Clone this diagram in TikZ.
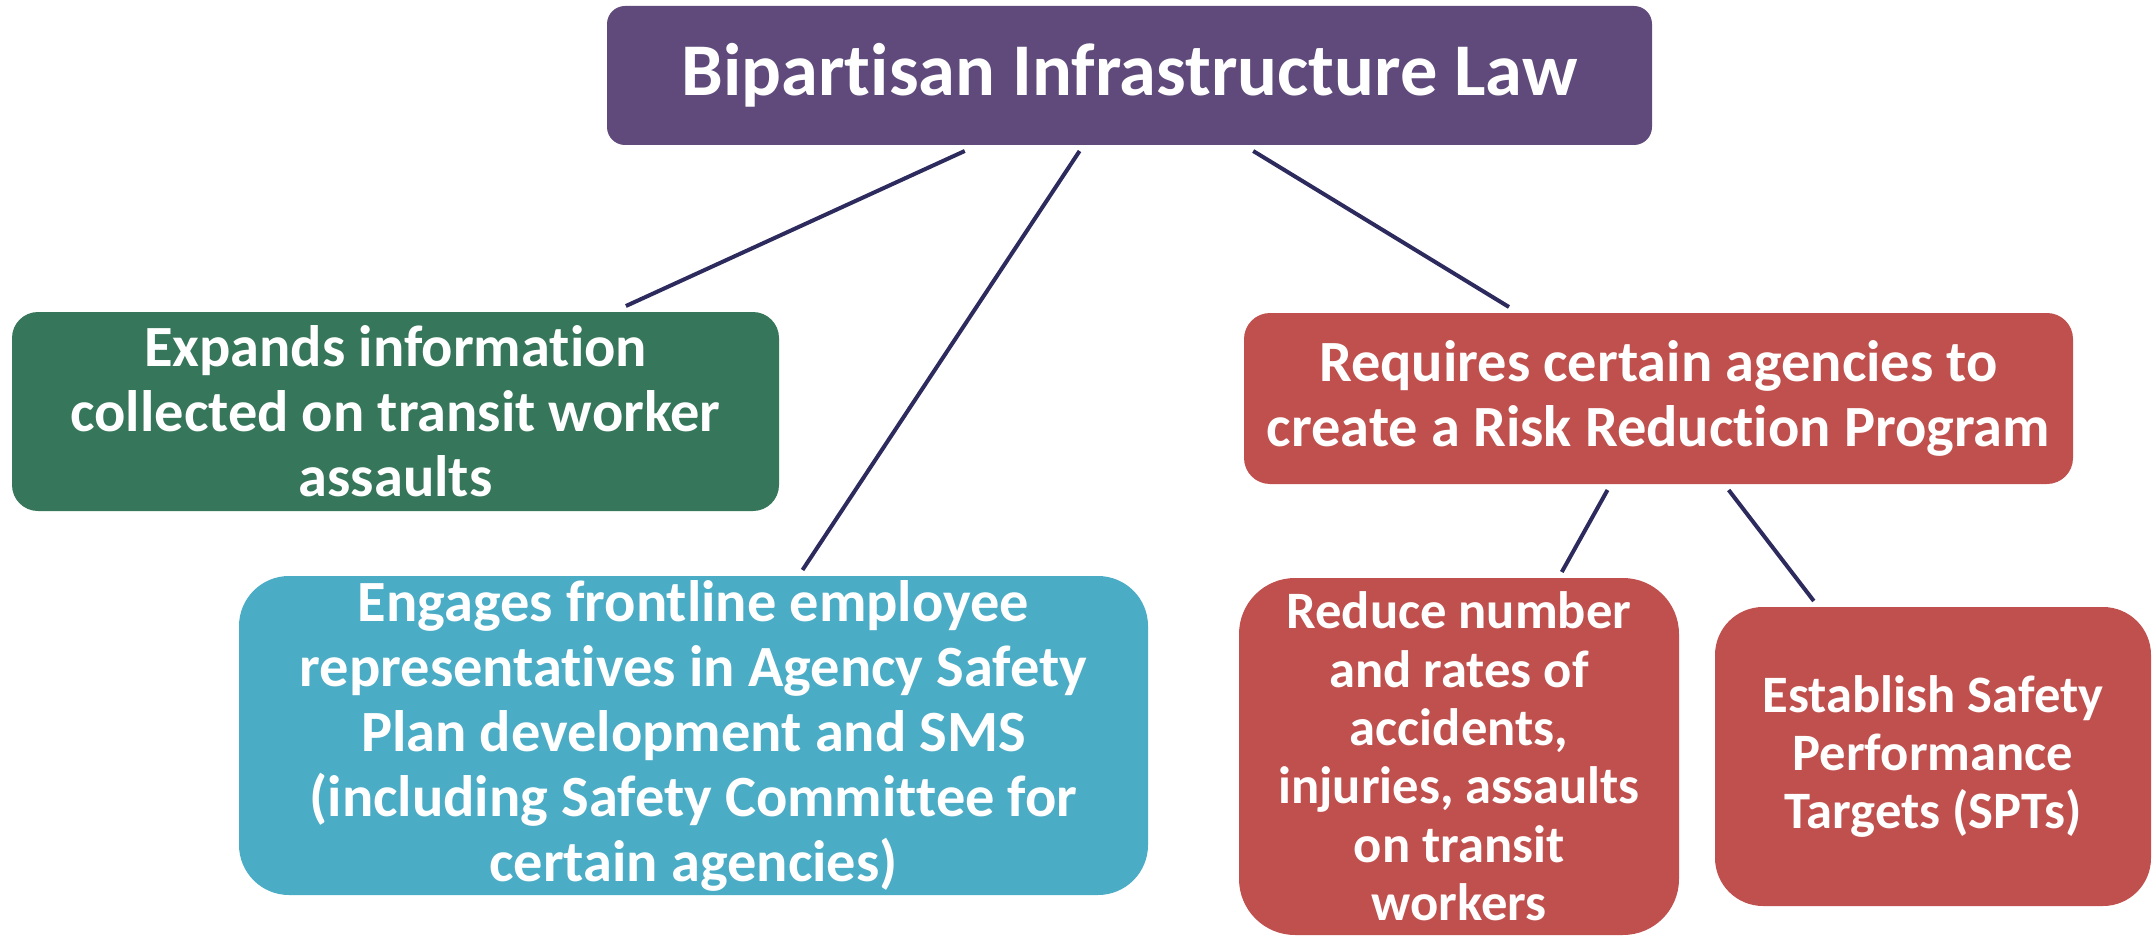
\documentclass[tikz,border=0pt]{standalone}
\usepackage{fontspec}
\setmainfont{Carlito}[Ligatures=NoCommon]
\definecolor{cpurple}{HTML}{604A7B}
\definecolor{cgreen}{HTML}{36765A}
\definecolor{cblue}{HTML}{4BACC6}
\definecolor{cred}{HTML}{C0504D}
\definecolor{cline}{HTML}{2D2A5E}
\tikzset{
  box/.style={draw=none, rectangle, align=center, text=white, inner sep=0pt, outer sep=3pt,
    font=\bfseries\fontsize{29.2}{32.5}\selectfont},
  smallbox/.style={box, font=\bfseries\fontsize{26.3}{29.2}\selectfont},
  conn/.style={draw=cline, line width=2pt}
}
\begin{document}
\begin{tikzpicture}[x=0.5pt, y=-0.5pt]
\useasboundingbox (0,0) rectangle (2152,936);
\node[box, fill=cpurple, rounded corners=9pt, minimum width=522.5pt, minimum height=69.5pt,
  font=\bfseries\fontsize{37.2}{46}\selectfont] (top) at (1129.5,75.5) {Bipartisan Infrastructure Law};
\node[box, fill=cgreen, rounded corners=13pt, minimum width=383.5pt, minimum height=99.5pt] (green) at (395.5,411.5)
  {Expands information\\collected on transit worker\\assaults};
\node[box, fill=cblue, rounded corners=25pt, minimum width=454.5pt, minimum height=159.5pt] (blue) at (693.5,735.5)
  {Engages frontline employee\\representatives in Agency Safety\\Plan development and SMS\\(including Safety Committee for\\certain agencies)};
\node[box, fill=cred, rounded corners=13pt, minimum width=414.5pt, minimum height=85.5pt] (rrp) at (1658.5,398.5)
  {Requires certain agencies to\\create a Risk Reduction Program};
\node[smallbox, fill=cred, rounded corners=28pt, minimum width=220pt, minimum height=178.5pt] (reduce) at (1459,756.5)
  {Reduce number\\and rates of\\accidents,\\injuries, assaults\\on transit\\workers};
\node[smallbox, fill=cred, rounded corners=24pt, minimum width=218pt, minimum height=149.5pt] (spt) at (1933,756.5)
  {Establish Safety\\Performance\\Targets (SPTs)};
\draw[conn] (top) -- (green);
\draw[conn] (top) -- (blue);
\draw[conn] (top) -- (rrp);
\draw[conn] (rrp) -- (reduce);
\draw[conn] (rrp) -- (spt);
\end{tikzpicture}
\end{document}
